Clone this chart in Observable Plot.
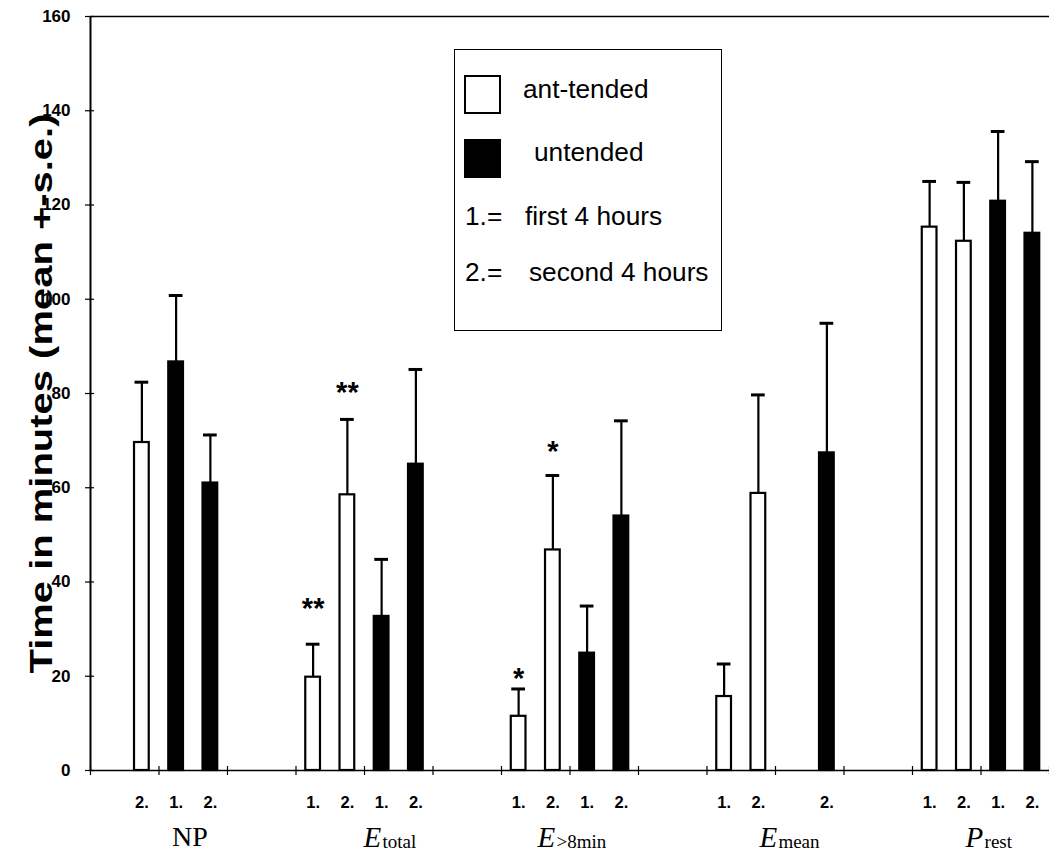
<!DOCTYPE html>
<html>
<head>
<meta charset="utf-8">
<script src="https://cdn.jsdelivr.net/npm/d3@7"></script>
<script src="https://cdn.jsdelivr.net/npm/@observablehq/plot@0.6"></script>
<style>
  html, body { margin: 0; padding: 0; background: #fff; }
  #wrap { position: relative; width: 1049px; height: 852px; font-family: "Liberation Sans", Arial, sans-serif; }
  #wrap svg { position: absolute; left: 0; top: 0; }
  #legend { position: absolute; left: 454px; top: 49px; width: 266px; height: 280px; border: 1.5px solid #000; background: #fff; }
  #legend div { position: absolute; font-size: 25px; line-height: 25px; color: #000; white-space: pre; transform: scaleX(1.05); transform-origin: left center; }
  #legend .sw { box-sizing: border-box; width: 37px; height: 39px; border: 2px solid #000; transform: none; }
</style>
</head>
<body>
<div id="wrap">
  <div id="legend">
    <div class="sw" style="left:9px;top:25px;background:#fff"></div>
    <div style="left:68px;top:27px">ant-tended</div>
    <div class="sw" style="left:9px;top:89px;background:#000"></div>
    <div style="left:79px;top:90px">untended</div>
    <div style="left:10px;top:154px">1.=</div>
    <div style="left:70px;top:154px">first 4 hours</div>
    <div style="left:10px;top:210px">2.=</div>
    <div style="left:74px;top:210px">second 4 hours</div>
  </div>
</div>
<script>
// ---- data ----
const groupMain = ["NP", "E", "E", "E", "P"];
const groupSub = ["", "total", ">8min", "mean", "rest"];
const groupItalic = [false, true, true, true, true];

const barGroup   = [0, 0, 0,   1, 1, 1, 1,   2, 2, 2, 2,   3, 3, 3,   4, 4, 4, 4];
const barTending = ["ant-tended", "untended", "untended",
                    "ant-tended", "ant-tended", "untended", "untended",
                    "ant-tended", "ant-tended", "untended", "untended",
                    "ant-tended", "ant-tended", "untended",
                    "ant-tended", "ant-tended", "untended", "untended"];
const barPeriod  = [2, 1, 2,   1, 2, 1, 2,   1, 2, 1, 2,   1, 2, 2,   1, 2, 1, 2];
const barMean    = [69.6, 86.7, 61.0,   19.8, 58.5, 32.7, 65.0,   11.5, 46.8, 24.9, 54.0,   15.7, 58.8, 67.4,   115.3, 112.3, 120.8, 114.0];
const barUpper   = [82.4, 100.8, 71.2,  26.8, 74.5, 44.8, 85.1,   17.3, 62.6, 34.9, 74.2,   22.6, 79.7, 94.9,   125.0, 124.8, 135.6, 129.2];
const barSig     = ["", "", "",   "**", "**", "", "",   "*", "*", "", "",   "", "", "",   "", "", "", ""];

const yTicks = [0, 20, 40, 60, 80, 100, 120, 140, 160];
const yLabel = "Time in minutes (mean +-s.e.)";

// ---- layout (not data) ----
const slotsPerGroup = 6;
const groupLabelStart = [2.38, 7.97, 13.05, 19.53, 25.55];
const starDy = {3: -35, 4: -27, 7: -10, 8: -24};

const bars = barMean.map((m, i) => ({
  i,
  group: barGroup[i],
  tending: barTending[i],
  period: barPeriod[i],
  mean: m,
  upper: barUpper[i],
  sig: barSig[i],
  slot: barGroup[i] * slotsPerGroup + (barTending[i] === "untended" ? 2 : 0) + (barPeriod[i] - 1)
}));
const groupsData = groupMain.map((g, k) => ({k, main: g, sub: groupSub[k], italic: groupItalic[k], x: groupLabelStart[k]}));
const sigBars = bars.filter(d => d.sig);

const inset = 0.285;
const font = "Liberation Sans, Arial, sans-serif";
const serif = "Liberation Serif, Times New Roman, serif";

const chart = Plot.plot({
  width: 1049,
  height: 852,
  marginLeft: 90,
  marginRight: 0,
  marginTop: 16,
  marginBottom: 82,
  style: {fontFamily: font, background: "#fff", color: "#000"},
  x: {type: "linear", domain: [0, 28], axis: null},
  y: {domain: [0, 160], axis: null},
  marks: [
    Plot.ruleY([160], {stroke: "#000", strokeWidth: 1.5}),
    Plot.ruleY([0], {stroke: "#000", strokeWidth: 1.5}),
    Plot.ruleX([0], {stroke: "#000", strokeWidth: 2}),
    Plot.axisY({ticks: yTicks, tickSize: 9, dx: 4, tickPadding: 15, fontSize: 17, fontWeight: "bold", stroke: "#000", strokeWidth: 1.2, label: null}),
    Plot.axisX({ticks: d3.range(0, 29, 2), tickSize: 9, dy: -4, tickFormat: () => "", label: null, strokeWidth: 1.2}),
    Plot.text([yLabel], {frameAnchor: "left", textAnchor: "middle", dx: -49, rotate: -90, fontSize: 32, fontWeight: "bold", fill: "#000"}),
    Plot.rectY(bars, {
      x1: d => d.slot + inset, x2: d => d.slot + 1 - inset,
      y1: 0, y2: "mean",
      fill: d => d.tending === "untended" ? "#000" : "#fff",
      stroke: "#000", strokeWidth: 2.2
    }),
    Plot.ruleX(bars, {x: d => d.slot + 0.5, y1: "mean", y2: "upper", stroke: "#000", strokeWidth: 2.2}),
    Plot.ruleY(bars, {y: "upper", x1: d => d.slot + 0.3, x2: d => d.slot + 0.7, stroke: "#000", strokeWidth: 3}),
    Plot.text(sigBars, {
      x: d => d.slot + 0.5, y: "upper", text: "sig",
      fontSize: 29, fontWeight: "bold", fill: "#000",
      render: (index, scales, values, dims, ctx, next) => {
        const g = next(index, scales, values, dims, ctx);
        d3.select(g).selectAll("text").each(function(_, j) {
          const d = sigBars[index[j]];
          const dyv = starDy[d.i] || -25;
          const t = d3.select(this);
          const tr = t.attr("transform") || "";
          t.attr("transform", tr + ` translate(0,${dyv})`);
        });
        return g;
      }
    }),
    Plot.text(bars, {x: d => d.slot + 0.5, y: 0, text: d => d.period + ".", dy: 32, fontSize: 16.5, fontWeight: "bold", fill: "#000"}),
    Plot.text(groupsData.filter(d => !d.italic), {x: "x", y: 0, text: "main", textAnchor: "start", dy: 67, fontSize: 28,
      fontFamily: serif, fill: "#000"}),
    Plot.text(groupsData.filter(d => d.italic), {x: "x", y: 0, text: "main", textAnchor: "start", dy: 67, fontSize: 29,
      fontFamily: serif, fontStyle: "italic", fill: "#000"}),
    Plot.text(groupsData.filter(d => d.sub), {x: "x", y: 0, text: "sub", textAnchor: "start", dx: 19, dy: 71, fontSize: 19,
      fontFamily: serif, fill: "#000"})
  ]
});
d3.select(chart).selectAll("text").filter(function() { return this.textContent === yLabel; })
  .attr("textLength", 560).attr("lengthAdjust", "spacingAndGlyphs");
document.getElementById("wrap").prepend(chart);
</script>
</body>
</html>
